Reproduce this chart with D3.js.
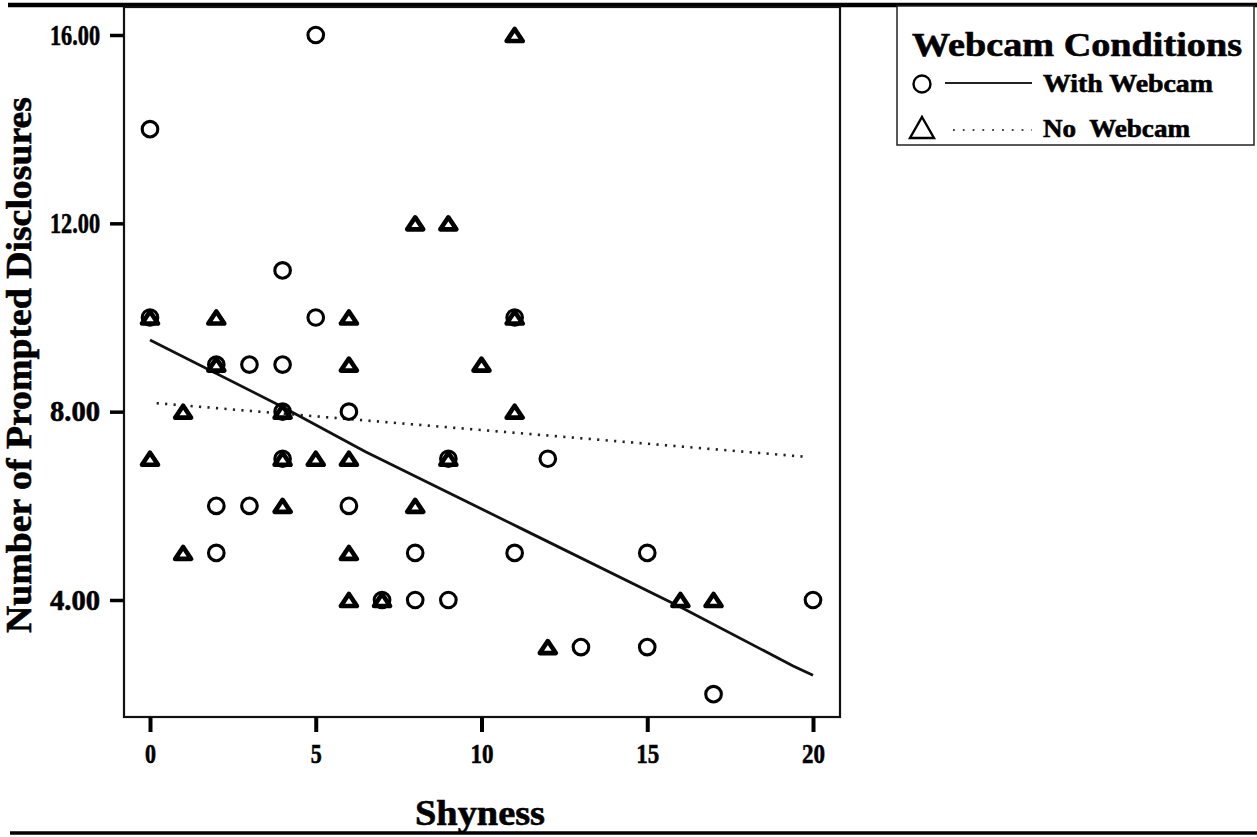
<!DOCTYPE html>
<html>
<head>
<meta charset="utf-8">
<script src="https://cdn.jsdelivr.net/npm/d3@7"></script>
<style>
  body { margin: 0; background: #fff; }
  svg text { font-family: "Liberation Serif", "Times New Roman", serif; font-weight: bold; fill: #000; stroke: #000; stroke-width: 0.6px; }
</style>
</head>
<body>
<div id="chart"></div>
<script>
// with webcam (circles)
var withShyness = [0, 5, 0, 4, 5, 2, 3, 4, 4, 6, 4, 2, 3, 6, 2, 7, 8, 9, 8, 9, 11, 12, 11, 15, 13, 15, 17, 20];
var withDisclosures = [14, 16, 10, 11, 10, 9, 9, 9, 8, 8, 7, 6, 6, 6, 5, 4, 4, 4, 5, 7, 5, 7, 10, 5, 3, 3, 2, 4];

// no webcam (triangles)
var noShyness = [11, 8, 9, 0, 2, 6, 2, 6, 10, 1, 4, 11, 0, 4, 5, 6, 9, 4, 8, 1, 6, 6, 7, 11, 12, 16, 17];
var noDisclosures = [16, 12, 12, 10, 10, 10, 9, 9, 9, 8, 8, 8, 7, 7, 7, 7, 7, 6, 6, 5, 5, 4, 4, 10, 3, 4, 4];

// fit lines
var withFitX = [0, 4, 6.5, 11.25, 16, 19.4, 20];
var withFitY = [9.52, 8.1, 7.15, 5.5, 3.85, 2.6, 2.4];
var noFitX = [0.2, 19.8];
var noFitY = [8.18, 7.04];

var xTicks = [0, 5, 10, 15, 20];
var yTicks = [4, 8, 12, 16];
var legendLabels = ['With Webcam', 'No  Webcam'];

var width = 1257, height = 837;
var frame = {left: 124, right: 840, top: 7, bottom: 717};

var svg = d3.select('#chart').append('svg')
  .attr('width', width)
  .attr('height', height);

var x = d3.scaleLinear().domain([0, 20]).range([150, 813]);
var y = d3.scaleLinear().domain([4, 16]).range([600, 35]);

//outer rules
svg.append('line')
  .attr('x1', 8).attr('x2', width).attr('y1', 5).attr('y2', 5)
  .attr('stroke', '#000').attr('stroke-width', 4.5);
svg.append('line')
  .attr('x1', 10).attr('x2', width).attr('y1', 833).attr('y2', 833)
  .attr('stroke', '#000').attr('stroke-width', 3.5);

//plot frame
svg.append('rect')
  .attr('x', frame.left).attr('y', frame.top)
  .attr('width', frame.right - frame.left)
  .attr('height', frame.bottom - frame.top)
  .attr('fill', 'none').attr('stroke', '#111').attr('stroke-width', 2.2);

//y axis
var yAxis = d3.axisLeft(y).tickValues(yTicks).tickSize(14).tickPadding(10).tickFormat(d3.format('.2f'));
var yg = svg.append('g').attr('transform', 'translate(' + frame.left + ',0)').call(yAxis);
yg.select('.domain').remove();
yg.selectAll('.tick line').attr('stroke', '#000').attr('stroke-width', 3.5);
yg.selectAll('.tick text')
  .attr('font-size', 29)
  .attr('textLength', 50)
  .attr('lengthAdjust', 'spacingAndGlyphs')
  .style('font-family', '"Liberation Serif", serif');

//x axis
var xAxis = d3.axisBottom(x).tickValues(xTicks).tickSize(15).tickPadding(11);
var xg = svg.append('g').attr('transform', 'translate(0,' + frame.bottom + ')').call(xAxis);
xg.select('.domain').remove();
xg.selectAll('.tick line').attr('stroke', '#000').attr('stroke-width', 4);
xg.selectAll('.tick text')
  .attr('font-size', 28)
  .attr('textLength', function(d) { return d >= 10 ? 23 : 11; })
  .attr('lengthAdjust', 'spacingAndGlyphs')
  .style('font-family', '"Liberation Serif", serif');

//axis titles
svg.append('text')
  .attr('transform', 'translate(31,365) rotate(-90)')
  .attr('text-anchor', 'middle')
  .attr('font-size', 35)
  .attr('textLength', 536)
  .attr('lengthAdjust', 'spacingAndGlyphs')
  .text('Number of Prompted Disclosures');

svg.append('text')
  .attr('x', 415).attr('y', 825)
  .attr('font-size', 35)
  .attr('textLength', 130)
  .attr('lengthAdjust', 'spacingAndGlyphs')
  .text('Shyness');

//fit lines
var line = d3.line().x(function(d) { return x(d[0]); }).y(function(d) { return y(d[1]); });
var withFit = withFitX.map(function(v, i) { return [v, withFitY[i]]; });
var noFit = noFitX.map(function(v, i) { return [v, noFitY[i]]; });

svg.append('path')
  .attr('d', line(noFit))
  .attr('fill', 'none')
  .attr('stroke', '#222')
  .attr('stroke-width', 2.6)
  .attr('stroke-dasharray', '2.2,6.3');

svg.append('path')
  .attr('d', line(withFit))
  .attr('fill', 'none')
  .attr('stroke', '#111')
  .attr('stroke-width', 2.8);

//markers
var triPath = 'M0,-6.5 L8,5.5 L-8,5.5 Z';

svg.append('g').selectAll('.circle-marker')
  .data(withShyness.map(function(v, i) { return [v, withDisclosures[i]]; }))
  .enter()
    .append('circle')
    .attr('class', 'circle-marker')
    .attr('cx', function(d) { return x(d[0]); })
    .attr('cy', function(d) { return y(d[1]); })
    .attr('r', 7.8)
    .attr('fill', 'none')
    .attr('stroke', '#000')
    .attr('stroke-width', 3.1);

svg.append('g').selectAll('.tri-marker')
  .data(noShyness.map(function(v, i) { return [v, noDisclosures[i]]; }))
  .enter()
    .append('path')
    .attr('class', 'tri-marker')
    .attr('d', triPath)
    .attr('transform', function(d) { return 'translate(' + x(d[0]) + ',' + (y(d[1]) + 0.5) + ')'; })
    .attr('fill', 'none')
    .attr('stroke', '#000')
    .attr('stroke-width', 4.6)
    .attr('stroke-linejoin', 'round');

//legend
var legend = svg.append('g').attr('class', 'legend');
legend.append('rect')
  .attr('x', 897).attr('y', 6)
  .attr('width', 357).attr('height', 139)
  .attr('fill', '#fff').attr('stroke', '#222').attr('stroke-width', 1.5);

legend.append('text')
  .attr('x', 912).attr('y', 56)
  .attr('font-size', 34)
  .attr('textLength', 330)
  .attr('lengthAdjust', 'spacingAndGlyphs')
  .text('Webcam Conditions');

legend.append('circle')
  .attr('cx', 922).attr('cy', 84).attr('r', 8.5)
  .attr('fill', 'none').attr('stroke', '#000').attr('stroke-width', 2.4);
legend.append('line')
  .attr('x1', 945).attr('x2', 1032).attr('y1', 83).attr('y2', 83)
  .attr('stroke', '#222').attr('stroke-width', 1.8);

legend.append('path')
  .attr('d', 'M0,-11 L12,10 L-12,10 Z')
  .attr('transform', 'translate(922,128)')
  .attr('fill', 'none').attr('stroke', '#000').attr('stroke-width', 2.4);
legend.append('line')
  .attr('x1', 953).attr('x2', 1032).attr('y1', 130).attr('y2', 130)
  .attr('stroke', '#444').attr('stroke-width', 1.8)
  .attr('stroke-dasharray', '1.8,8');

legend.selectAll('.legend-label')
  .data(legendLabels)
  .enter().append('text')
    .attr('class', 'legend-label')
    .attr('x', 1043)
    .attr('y', function(d, i) { return 92 + i * 45; })
    .attr('font-size', 26)
    .attr('textLength', function(d, i) { return i == 0 ? 170 : 147; })
    .attr('lengthAdjust', 'spacingAndGlyphs')
    .style('white-space', 'pre')
    .text(function(d) { return d; });
</script>
</body>
</html>
